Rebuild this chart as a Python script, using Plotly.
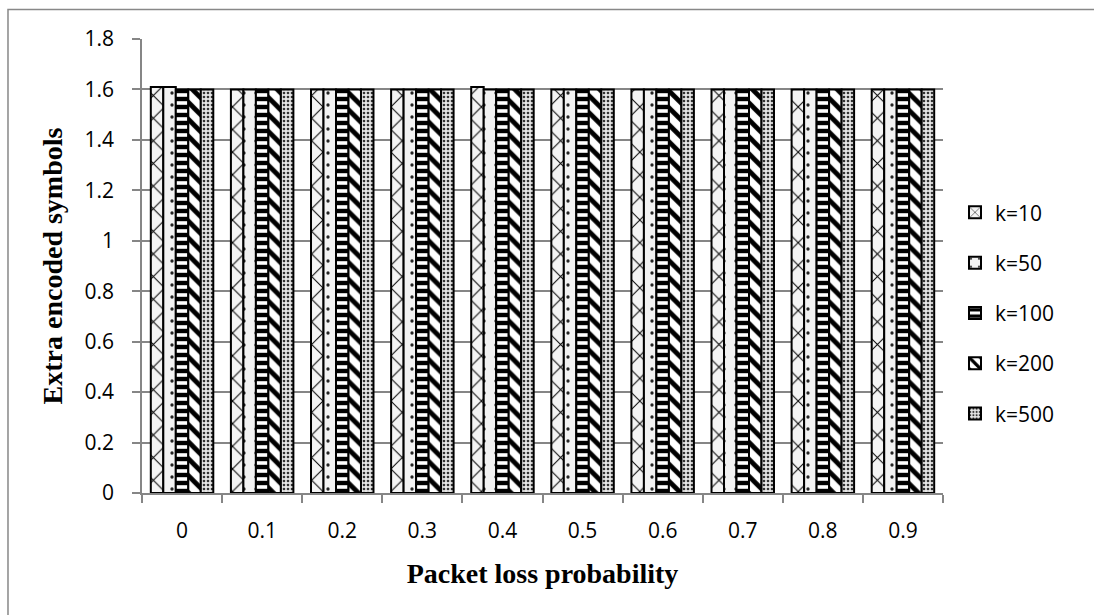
import plotly.graph_objects as go

categories = ["0", "0.1", "0.2", "0.3", "0.4", "0.5", "0.6", "0.7", "0.8", "0.9"]
k10 = [1.61, 1.60, 1.60, 1.60, 1.61, 1.60, 1.60, 1.60, 1.60, 1.60]
k50 = [1.61, 1.60, 1.60, 1.60, 1.60, 1.60, 1.60, 1.60, 1.60, 1.60]
k100 = [1.60, 1.60, 1.60, 1.60, 1.60, 1.60, 1.60, 1.60, 1.60, 1.60]
k200 = [1.60, 1.60, 1.60, 1.60, 1.60, 1.60, 1.60, 1.60, 1.60, 1.60]
k500 = [1.60, 1.60, 1.60, 1.60, 1.60, 1.60, 1.60, 1.60, 1.60, 1.60]
series_names = ["k=10", "k=50", "k=100", "k=200", "k=500"]
series_vals = [k10, k50, k100, k200, k500]

patterns = [
    dict(shape="x", fgcolor="black", bgcolor="#f4f4f4", size=16, solidity=0.12),
    dict(shape=".", fgcolor="#222", bgcolor="#f2f2f2", size=12, solidity=0.06),
    dict(shape="-", fgcolor="black", bgcolor="white", size=8, solidity=0.55),
    dict(shape="\\", fgcolor="black", bgcolor="white", size=12, solidity=0.4),
    dict(shape=".", fgcolor="#333", bgcolor="#e6e6e6", size=4, solidity=0.35),
]

fig = go.Figure()
for i, (name, vals) in enumerate(zip(series_names, series_vals)):
    fig.add_trace(go.Bar(
        x=categories, y=vals, name=name, legendgroup=name,
        marker=dict(color="white",
                    pattern=dict(fillmode="replace", fgopacity=1, **patterns[i]),
                    line=dict(color="black", width=2)),
    ))

title_font = dict(family="Liberation Serif, Times New Roman, serif", size=28, color="black")

fig.update_layout(
    width=1094, height=615,
    margin=dict(l=142, r=151, t=39, b=122),
    paper_bgcolor="white", plot_bgcolor="white",
    barmode="group", bargap=0.22, bargroupgap=0,
    font=dict(family="Open Sans, Lato, sans-serif", size=21, color="black"),
    legend=dict(x=1.015, y=0.396, xanchor="left", yanchor="middle",
                traceorder="grouped", tracegroupgap=20,
                font=dict(size=21), bgcolor="rgba(0,0,0,0)"),
    showlegend=True,
)
fig.update_xaxes(
    type="category", showline=True, linecolor="#868686", linewidth=1.5,
    ticks="outside", tickson="boundaries", ticklen=8, tickcolor="#868686", tickwidth=1.5,
    ticklabelstandoff=18,
    showgrid=False,
    title=dict(text="<b>Packet loss probability</b>", font=title_font, standoff=20),
)
fig.update_yaxes(
    range=[0, 1.8], dtick=0.2, tickformat="~g",
    showline=True, linecolor="#868686", linewidth=1.5,
    ticks="outside", ticklen=8, tickcolor="#868686", tickwidth=1.5,
    ticklabelstandoff=14,
    showgrid=True, gridcolor="#868686", gridwidth=1.5, zeroline=False,
    title=dict(text="<b>Extra encoded symbols</b>", font=title_font, standoff=14),
)
fig.add_shape(type="rect", xref="paper", yref="paper",
              x0=-0.1673, x1=1.3, y0=-0.5, y1=1.065,
              line=dict(color="#888888", width=1.5), fillcolor="rgba(0,0,0,0)", layer="below")

fig.write_html("out.html")
